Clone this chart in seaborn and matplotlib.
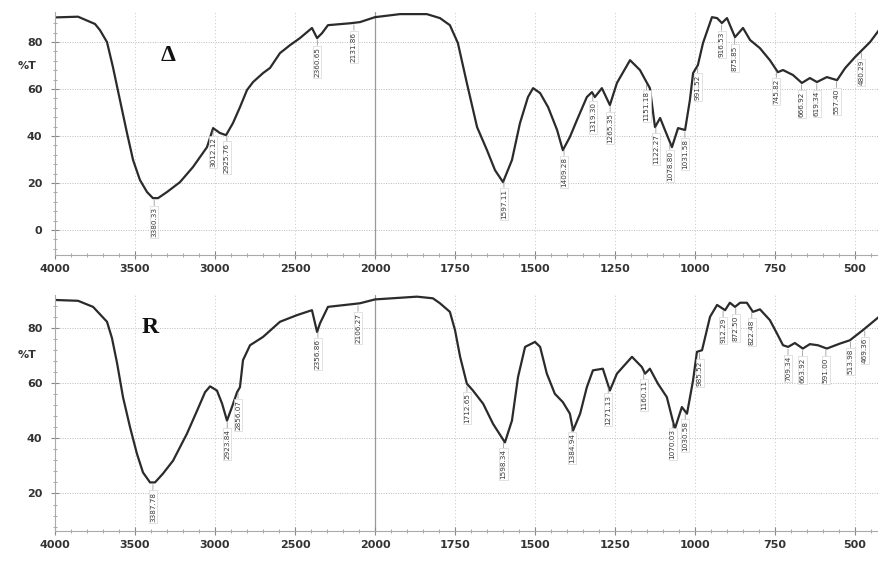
import numpy as np
import pandas as pd
import matplotlib
matplotlib.use("Agg")
import matplotlib.pyplot as plt
import matplotlib.transforms as mtransforms
from matplotlib.ticker import FixedLocator, NullFormatter
import seaborn as sns

# Espectro A (numero de onda cm-1, %T)
wn_a = [4000, 3856, 3750, 3719, 3675, 3638, 3594, 3550, 3512, 3469, 3425, 3388, 3356,
        3300, 3219, 3138, 3050, 3012, 2969, 2931, 2888, 2844, 2800, 2762, 2700, 2656,
        2594, 2531, 2469, 2394, 2362, 2331, 2294, 2156, 2094, 2000, 1922, 1838, 1797,
        1766, 1741, 1713, 1681, 1650, 1625, 1600, 1572, 1547, 1522, 1506, 1484, 1459,
        1431, 1413, 1391, 1369, 1338, 1322, 1313, 1291, 1266, 1244, 1203, 1172, 1150,
        1141, 1125, 1109, 1094, 1072, 1053, 1031, 1016, 1006, 991, 975, 947, 931, 916,
        900, 875, 850, 828, 797, 766, 741, 725, 694, 666, 641, 619, 588, 556, 531, 500,
        453, 425]
t_a = [90.5, 90.8, 87.7, 85.1, 80.0, 69.4, 55.3, 41.3, 29.8, 21.3, 16.2, 13.6, 13.6,
       16.2, 20.4, 26.8, 35.3, 43.4, 41.3, 40.4, 45.5, 52.3, 59.6, 63.0, 66.8, 69.0,
       75.3, 78.7, 81.7, 86.0, 81.7, 83.8, 87.2, 88.0, 88.5, 90.6, 91.9, 91.9, 90.2,
       87.2, 79.6, 62.6, 43.8, 34.0, 25.5, 20.4, 29.8, 45.5, 56.6, 60.4, 58.3, 52.3,
       42.6, 34.0, 39.6, 46.8, 56.6, 58.7, 56.6, 60.4, 53.2, 62.6, 72.3, 68.1, 62.6,
       60.4, 43.8, 47.7, 42.6, 35.3, 43.4, 42.6, 55.3, 66.8, 70.2, 79.6, 90.6, 90.2, 88.1,
       90.2, 82.1, 86.0, 80.9, 77.4, 72.3, 67.2, 68.1, 66.0, 62.6, 64.7, 63.0, 65.1, 63.8,
       68.9, 73.6, 80.0, 85.1]

# Espectro B
wn_b = [4000, 3856, 3762, 3675, 3644, 3612, 3575, 3531, 3488, 3450, 3406, 3375, 3325,
        3262, 3175, 3112, 3062, 3031, 2988, 2956, 2925, 2894, 2862, 2844, 2825, 2781,
        2700, 2594, 2488, 2394, 2362, 2344, 2294, 2094, 2000, 1869, 1819, 1797, 1766,
        1750, 1734, 1713, 1694, 1662, 1631, 1594, 1572, 1553, 1531, 1500, 1484, 1463,
        1438, 1413, 1391, 1381, 1359, 1338, 1319, 1288, 1266, 1244, 1197, 1166, 1156,
        1141, 1116, 1088, 1063, 1041, 1025, 1006, 994, 978, 953, 931, 906, 891, 875,
        859, 838, 819, 797, 766, 744, 725, 709, 688, 663, 641, 616, 588, 547, 516, 475,
        425]
t_b = [90.1, 89.8, 87.6, 82.2, 76.3, 67.2, 54.9, 44.0, 34.4, 27.6, 24.0, 24.0, 27.2,
       31.9, 41.7, 50.0, 56.7, 58.8, 57.3, 52.6, 46.4, 51.3, 56.7, 58.5, 68.3, 73.7,
       76.7, 82.2, 84.6, 86.4, 78.5, 81.6, 87.6, 88.9, 90.3, 91.3, 90.7, 88.9, 85.8,
       79.2, 69.5, 59.8, 57.3, 52.5, 45.2, 38.5, 46.4, 62.2, 73.1, 74.9, 73.1, 63.4,
       56.1, 53.1, 48.9, 42.8, 48.9, 58.5, 64.6, 65.2, 57.3, 63.4, 69.5, 65.8, 63.4,
       65.2, 59.8, 54.9, 43.4, 51.3, 48.9, 61.0, 71.3, 71.9, 84.0, 88.3, 86.4, 89.1, 87.6,
       89.1, 89.1, 85.8, 86.7, 82.8, 78.0, 73.7, 73.1, 74.5, 72.5, 74.1, 73.7, 72.5, 74.3,
       75.5, 79.2, 84.0]

# Picos marcados
picos_a = [3380.33, 3012.12, 2925.76, 2360.65, 2131.86, 1597.11, 1409.28, 1319.30,
           1265.35, 1151.18, 1122.27, 1078.80, 1031.58, 991.52, 916.53, 875.85, 745.82,
           666.92, 619.34, 557.40, 480.29]
picos_b = [3387.78, 2923.84, 2856.07, 2356.86, 2106.27, 1712.65, 1598.34, 1384.94,
           1271.13, 1160.11, 1070.03, 1030.58, 985.52, 912.29, 872.50, 822.48, 709.34,
           663.92, 591.00, 513.98, 469.36]

ticks_x = [4000, 3500, 3000, 2500, 2000, 1750, 1500, 1250, 1000, 750, 500]


def adelante(w):
    w = np.asarray(w, dtype=float)
    return np.where(w >= 2000, (w - 2000) / 500.0, (w - 2000) / 250.0)


def inversa(p):
    p = np.asarray(p, dtype=float)
    return np.where(p >= 0, 2000 + 500.0 * p, 2000 + 250.0 * p)


sns.set_style("white")
plt.rcParams['font.family'] = ['DejaVu Sans']

fig = plt.figure(figsize=(8.79, 5.62), dpi=100)
ax_a = fig.add_axes([55 / 879, 1 - 255 / 562, 824 / 879, 243 / 562])
ax_b = fig.add_axes([55 / 879, 1 - 531 / 562, 824 / 879, 236 / 562])


def dibujar(ax, wn, t, picos, ylim, yticks, letra, pos_letra):
    df = pd.DataFrame({"wn": wn, "T": t})
    ax.set_xscale("function", functions=(adelante, inversa))
    sns.lineplot(data=df, x="wn", y="T", ax=ax, color="#2b2b2b", lw=1.6,
                 estimator=None, sort=False)
    ax.set_xlim(4000, 425)
    ax.set_ylim(*ylim)
    ax.xaxis.set_major_locator(FixedLocator(ticks_x))
    menores = list(range(4000, 2000, -100)) + list(range(2000, 400, -50))
    ax.xaxis.set_minor_locator(FixedLocator(menores))
    ax.xaxis.set_minor_formatter(NullFormatter())
    ax.set_xticklabels([str(v) for v in ticks_x])
    ax.yaxis.set_major_locator(FixedLocator(yticks))
    ax.yaxis.set_minor_locator(FixedLocator(np.arange(-8, 92, 4)))
    ax.yaxis.set_minor_formatter(NullFormatter())
    ax.set_xlabel("")
    ax.set_ylabel("")
    for s in ["top", "right"]:
        ax.spines[s].set_visible(False)
    for s in ["left", "bottom"]:
        ax.spines[s].set_color("#aaaaaa")
        ax.spines[s].set_linewidth(0.8)
    ax.tick_params(axis="both", which="both", left=True, bottom=True)
    ax.tick_params(axis="both", which="major", labelsize=8, colors="#888888",
                   labelcolor="#333333", length=6, width=0.8, direction="inout")
    ax.tick_params(axis="both", which="minor", colors="#999999", length=3,
                   width=0.6, direction="inout")
    ax.tick_params(axis="y", which="major", pad=6)
    for lbl in ax.get_xticklabels() + ax.get_yticklabels():
        lbl.set_fontweight("bold")
    for y in yticks:
        ax.axhline(y, color="#bbbbbb", lw=0.7, ls=(0, (1, 1.5)), zorder=0)
    for x in ticks_x:
        if x == 2000:
            ax.axvline(x, color="#999999", lw=0.9, zorder=0)
        else:
            ax.axvline(x, color="#c8c8c8", lw=0.7, ls=(0, (1, 2.5)), zorder=0)
    trans = mtransforms.blended_transform_factory(ax.transAxes, ax.transData)
    ax.text(-0.022, 70, "%T", transform=trans, ha="right", va="center",
            fontsize=8, fontweight="bold", color="#333333")
    ax.text(pos_letra[0], pos_letra[1], letra, fontsize=17, fontweight="bold",
            family="Liberation Serif", ha="center", va="center", color="#111111")
    wn_orden = np.array(wn)[::-1]
    t_orden = np.array(t)[::-1]
    for p in picos:
        yp = np.interp(p, wn_orden, t_orden)
        ax.annotate(f"{p:.2f}", xy=(p, yp - 0.8), xytext=(0, -5),
                    textcoords="offset points", rotation=90, ha="center", va="top",
                    fontsize=5.2, color="#3a3a3a",
                    bbox=dict(boxstyle="square,pad=0.15", fc="white", ec="#cccccc",
                              lw=0.4),
                    arrowprops=dict(arrowstyle="-", lw=0.5, color="#888888",
                                    shrinkA=0, shrinkB=0))


dibujar(ax_a, wn_a, t_a, picos_a, (-10.6, 92.8), [0, 20, 40, 60, 80], "Δ", (3294, 74.5))
dibujar(ax_b, wn_b, t_b, picos_b, (6.4, 91.9), [20, 40, 60, 80], "R", (3406, 80))

fig.savefig("out.png", dpi=100)
